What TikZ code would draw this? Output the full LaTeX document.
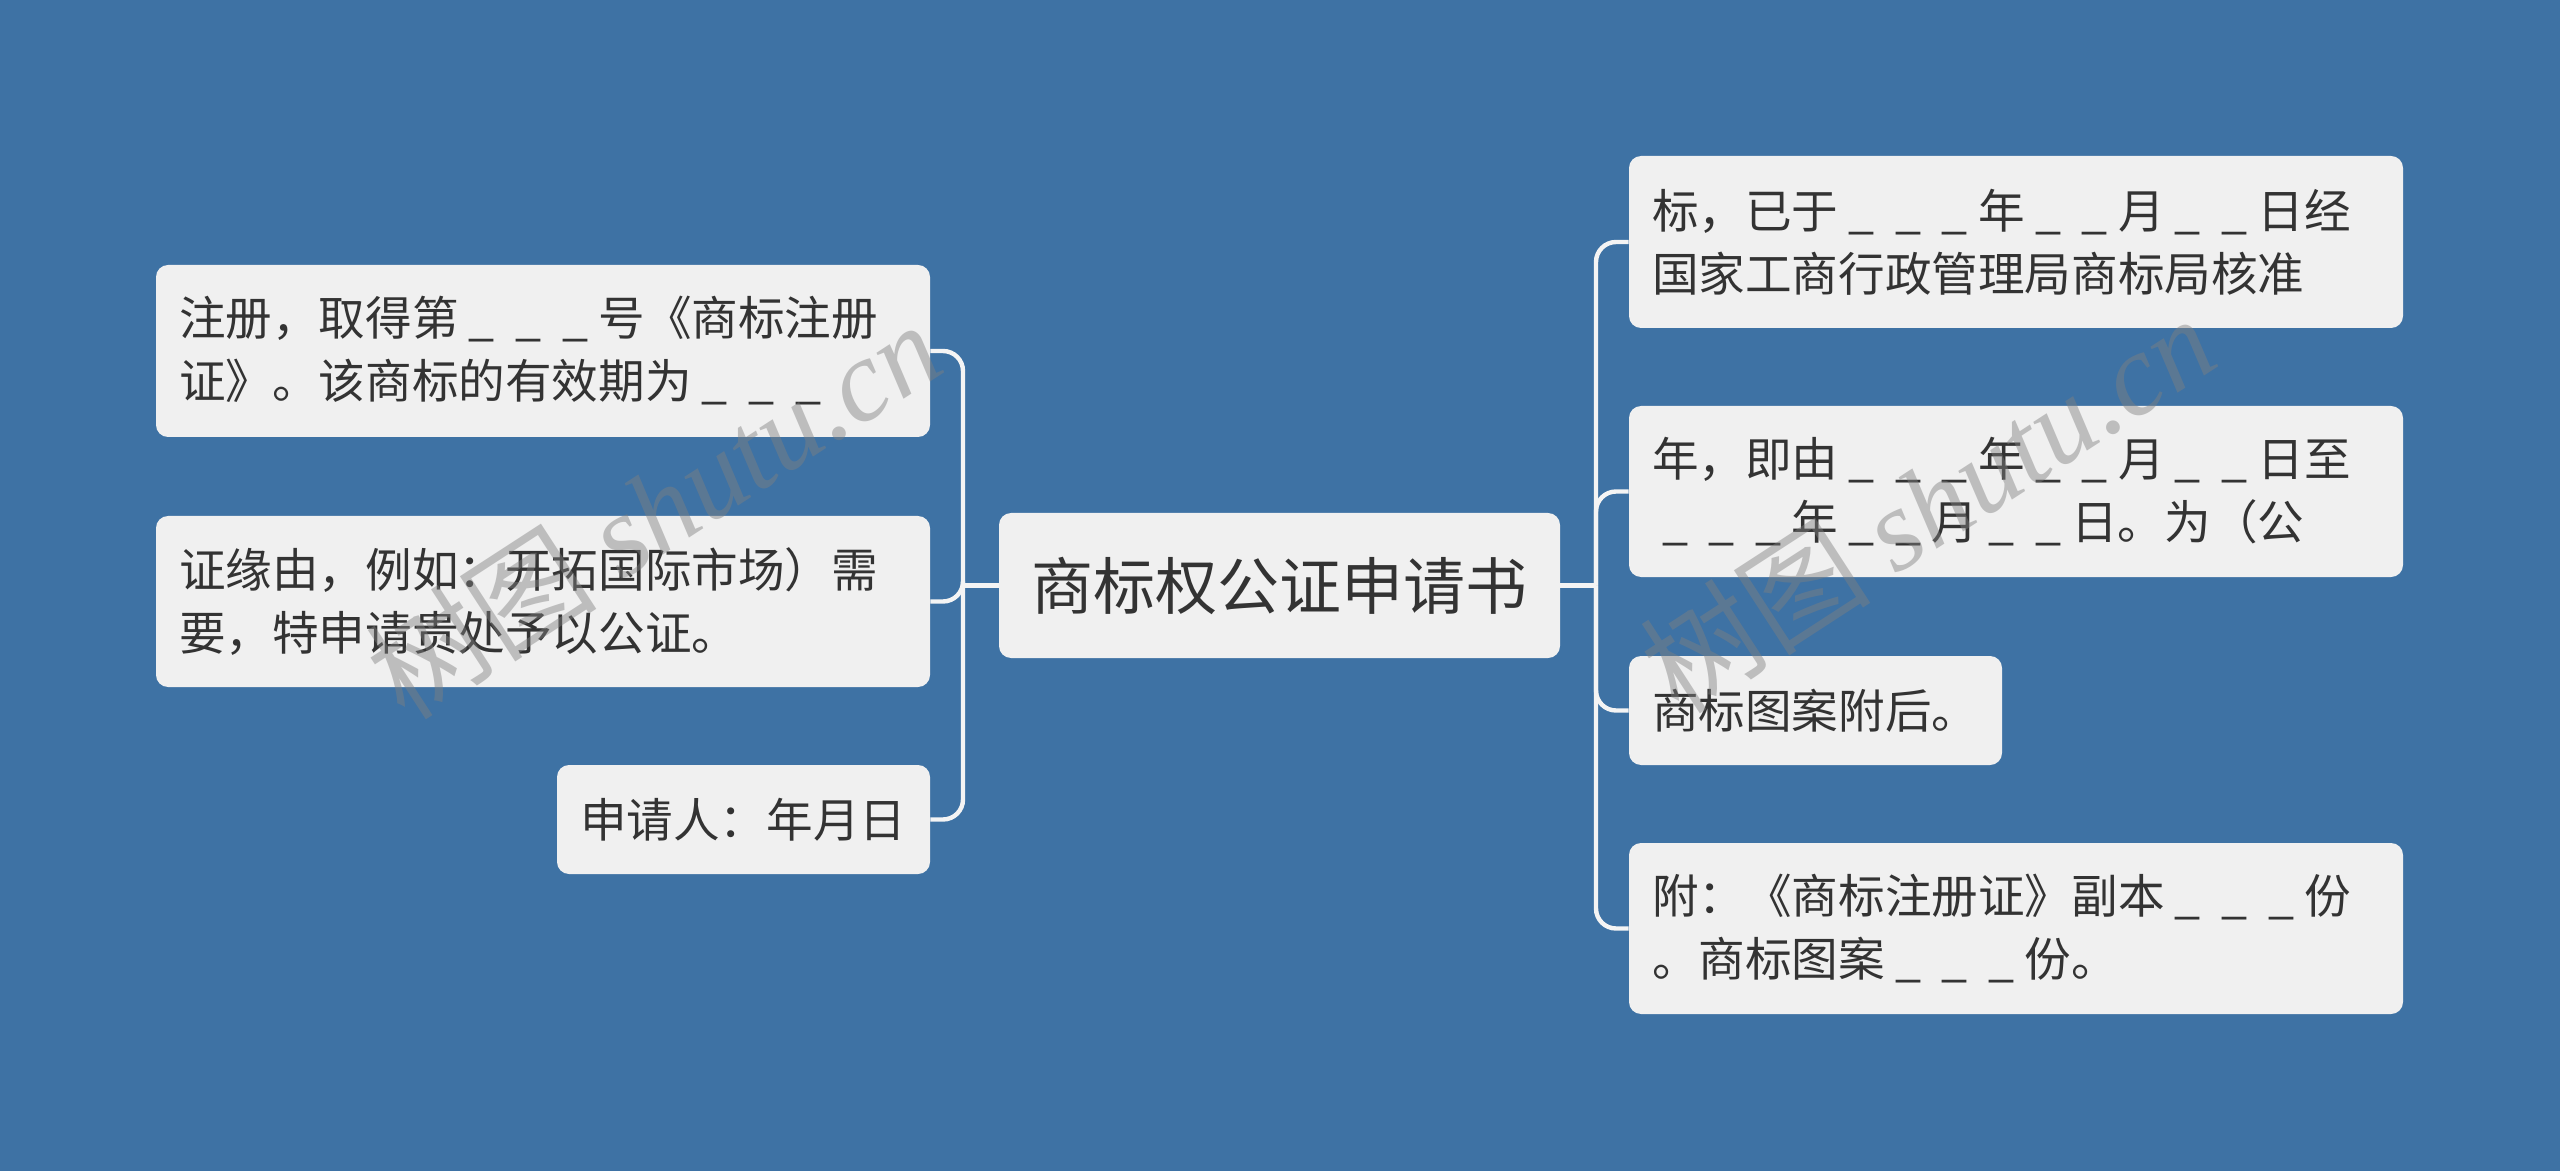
\documentclass[tikz,border=0pt]{standalone}
\usepackage{fontspec}
\setmainfont{Noto Sans CJK SC}
\newfontfamily\wmfont{Liberation Serif}
\definecolor{bgblue}{HTML}{3E72A4}
\definecolor{nodefill}{HTML}{F0F0F0}
\definecolor{txt}{HTML}{333333}
\definecolor{conncol}{HTML}{F4F4F4}
\newcommand\bk{\makebox[1em]{\_}}
\begin{document}
\begin{tikzpicture}[x=1pt,y=1pt,
  topic/.style={rectangle, rounded corners=6pt, fill=nodefill, text=txt, align=left,
    inner xsep=11.5pt, inner ysep=0pt, font=\fontsize{23.3}{31.5}\selectfont},
  roottopic/.style={rectangle, rounded corners=6pt, fill=nodefill, text=txt, align=center,
    inner sep=0pt, font=\fontsize{31}{36}\selectfont},
  conn/.style={draw=conncol, line width=2.2pt, rounded corners=10pt},
  wm/.style={rotate=33, text=gray, opacity=0.45, inner sep=0pt}]
\fill[bgblue] (0,0) rectangle (1280,-585.5);
\useasboundingbox (0,0) rectangle (1280,-585.5);

\node[roottopic, minimum width=280.5pt, minimum height=72.5pt] (root) at (639.75,-292.75) {商标权公证申请书};

\node[topic, text width=364pt, minimum height=86pt] (L1) at (271.5,-175.5)
  {注册，取得第\bk\bk\bk 号《商标注册\\证》。该商标的有效期为\bk\bk\bk};
\node[topic, text width=364pt, minimum height=85.5pt] (L2) at (271.5,-300.75)
  {证缘由，例如：开拓国际市场）需\\要，特申请贵处予以公证。};
\node[topic, text width=163.5pt, minimum height=54.5pt] (L3) at (371.75,-409.75)
  {申请人：年月日};

\node[topic, text width=364pt, minimum height=86pt] (R1) at (1008,-121)
  {标，已于\bk\bk\bk 年\bk\bk 月\bk\bk 日经\\国家工商行政管理局商标局核准};
\node[topic, text width=364pt, minimum height=85.5pt] (R2) at (1008,-245.75)
  {年，即由\bk\bk\bk 年\bk\bk 月\bk\bk 日至\\\bk\bk\bk 年\bk\bk 月\bk\bk 日。为（公};
\node[topic, text width=163.5pt, minimum height=54.5pt] (R3) at (907.75,-355.25)
  {商标图案附后。};
\node[topic, text width=364pt, minimum height=85.5pt] (R4) at (1008,-464.25)
  {附：《商标注册证》副本\bk\bk\bk 份\\。商标图案\bk\bk\bk 份。};

\coordinate (lj) at (481.5,-292.75);
\coordinate (rj) at (798,-292.75);
\draw[conn] (root.west) -- (lj);
\draw[conn] (lj) |- (L1.east);
\draw[conn] (lj) |- (L2.east);
\draw[conn] (lj) |- (L3.east);
\draw[conn] (root.east) -- (rj);
\draw[conn] (rj) |- (R1.west);
\draw[conn] (rj) |- (R2.west);
\draw[conn] (rj) |- (R3.west);
\draw[conn] (rj) |- (R4.west);

\node[wm] (wm1) at (326.5,-254.5) {\fontsize{58}{58}\selectfont 树图 {\wmfont\itshape shutu.cn}};
\node[wm] (wm2) at (963.5,-251.5) {\fontsize{58}{58}\selectfont 树图 {\wmfont\itshape shutu.cn}};
\end{tikzpicture}
\end{document}
